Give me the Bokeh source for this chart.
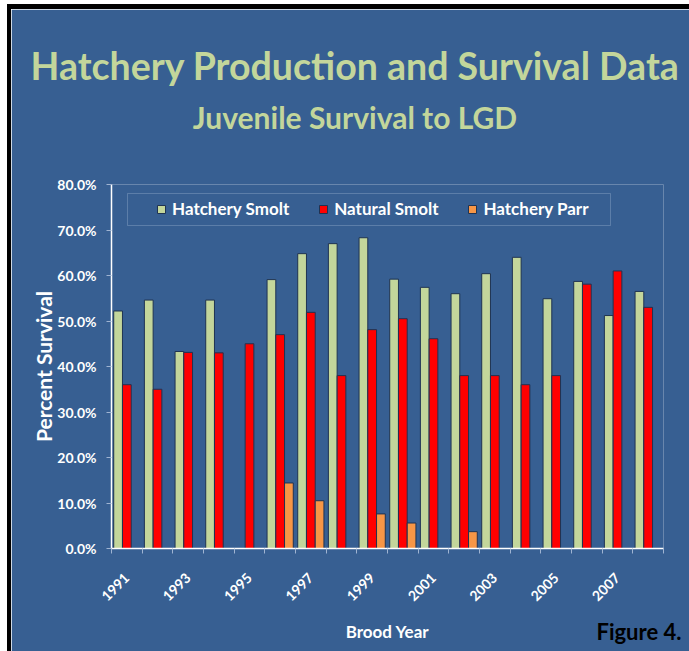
import numpy as np
from math import pi
from bokeh.plotting import figure
from bokeh.models import (ColumnDataSource, Range1d, FixedTicker, PrintfTickFormatter,
                          BoxAnnotation, Legend, LegendItem, LinearAxis, Title)
from bokeh.transform import dodge
from bokeh.embed import file_html
from bokeh.resources import INLINE

nan = float("nan")
years = [1991, 1992, 1993, 1994, 1995, 1996, 1997, 1998, 1999,
         2000, 2001, 2002, 2003, 2004, 2005, 2006, 2007, 2008]
hatchery_smolt = [52.2, 54.6, 43.3, 54.6, nan, 59.1, 64.8, 67.0, 68.3,
                  59.2, 57.4, 56.0, 60.4, 64.0, 54.9, 58.7, 51.2, 56.5]
natural_smolt = [36.0, 35.0, 43.1, 43.0, 45.0, 47.0, 51.9, 38.0, 48.1,
                 50.5, 46.1, 38.0, 38.0, 36.0, 38.0, 58.1, 61.0, 53.0]
hatchery_parr = [nan, nan, nan, nan, nan, 14.4, 10.5, nan, 7.6,
                 5.6, nan, 3.7, nan, nan, nan, nan, nan, nan]
tick_years = [1991, 1993, 1995, 1997, 1999, 2001, 2003, 2005, 2007]
y_ticks = [0, 10, 20, 30, 40, 50, 60, 70, 80]
FIG_LABEL_X = 2007.7    # caption position along the x axis
SUB_LABEL_X = 1998.44   # subtitle centre along the x axis

BG = "#375F92"
GREEN = "#C3D69B"
RED = "#FF0000"
ORANGE = "#F79646"
OUTLINE = "#1F3352"
TICKC = "#9FB4D2"
FONT = "Lato"

src = ColumnDataSource(dict(year=np.array(years, dtype=float),
                            hs=np.array(hatchery_smolt, dtype=float),
                            ns=np.array(natural_smolt, dtype=float),
                            hp=np.array(hatchery_parr, dtype=float)))

p = figure(width=678, height=642, output_backend="svg", toolbar_location=None,
           x_range=Range1d(years[0] - 0.5, years[-1] + 0.5), y_range=Range1d(0, 80),
           min_border_left=100, min_border_right=26, min_border_top=175, min_border_bottom=103,
           styles={"margin-left": "11px", "margin-top": "9px",
                   "box-shadow": "-4px -5px 0 0 black, 0 -5px 0 0 black, -4px 0 0 0 black"})
p.background_fill_color = BG
p.border_fill_color = BG
p.outline_line_color = None
p.xgrid.grid_line_color = None
p.ygrid.grid_line_color = None

bw = 0.285
r1 = p.vbar(x=dodge("year", -bw, range=p.x_range), top="hs", width=bw, source=src,
            fill_color=GREEN, line_color=OUTLINE, line_width=1)
r2 = p.vbar(x="year", top="ns", width=bw, source=src,
            fill_color=RED, line_color=OUTLINE, line_width=1)
r3 = p.vbar(x=dodge("year", bw, range=p.x_range), top="hp", width=bw, source=src,
            fill_color=ORANGE, line_color=OUTLINE, line_width=1)

# x axis with the years
xa = p.xaxis[0]
xa.ticker = FixedTicker(ticks=tick_years, minor_ticks=[y - 0.5 for y in years] + [years[-1] + 0.5])
xa.major_label_overrides = {y: str(y) for y in tick_years}
xa.major_label_orientation = pi / 4
xa.major_tick_out = 0
xa.major_tick_in = 0
xa.minor_tick_out = 5
xa.minor_tick_in = 0
xa.minor_tick_line_color = TICKC
xa.axis_line_color = "white"
xa.axis_line_width = 1.5
xa.major_label_text_color = "white"
xa.major_label_text_font = FONT
xa.major_label_text_font_style = "bold"
xa.major_label_text_font_size = "14px"
xa.major_label_standoff = 22

# second (line-less) axis carrying the caption and the axis title
xb = LinearAxis(ticker=FixedTicker(ticks=[FIG_LABEL_X]),
                major_label_overrides={FIG_LABEL_X: "Figure 4."},
                axis_line_color=None, major_tick_line_color=None, minor_tick_line_color=None,
                major_tick_out=0, major_tick_in=0, minor_tick_out=0, minor_tick_in=0,
                major_label_standoff=9, major_label_text_color="black",
                major_label_text_font=FONT, major_label_text_font_style="bold",
                major_label_text_font_size="22px",
                axis_label="Brood Year", axis_label_text_color="white",
                axis_label_text_font=FONT, axis_label_text_font_style="bold",
                axis_label_text_font_size="17px", axis_label_standoff=-27)
p.add_layout(xb, "below")

# y axis
ya = p.yaxis[0]
ya.ticker = FixedTicker(ticks=y_ticks)
ya.formatter = PrintfTickFormatter(format="%.1f%%")
ya.major_tick_out = 5
ya.major_tick_in = 0
ya.minor_tick_out = 0
ya.minor_tick_in = 0
ya.major_tick_line_color = TICKC
ya.axis_line_color = "white"
ya.axis_line_width = 1.5
ya.major_label_text_color = "white"
ya.major_label_text_font = FONT
ya.major_label_text_font_style = "bold"
ya.major_label_text_font_size = "14px"
ya.major_label_standoff = 10
ya.axis_label = "Percent Survival"
ya.axis_label_text_color = "white"
ya.axis_label_text_font = FONT
ya.axis_label_text_font_style = "bold"
ya.axis_label_text_font_size = "21px"
ya.axis_label_standoff = -2

# legend
legend = Legend(items=[LegendItem(label="Hatchery Smolt", renderers=[r1]),
                       LegendItem(label="Natural Smolt", renderers=[r2]),
                       LegendItem(label="Hatchery Parr", renderers=[r3])],
                location=(45, 329), orientation="horizontal",
                glyph_width=10, glyph_height=10, label_standoff=6, spacing=29,
                padding=0, margin=0, label_height=20,
                border_line_alpha=0, background_fill_alpha=0,
                label_text_color="white", label_text_font=FONT,
                label_text_font_style="bold", label_text_font_size="17px")
p.add_layout(legend)
p.add_layout(BoxAnnotation(left=16, right=499, bottom=323, top=355,
                           left_units="screen", right_units="screen",
                           bottom_units="screen", top_units="screen",
                           fill_alpha=0, line_color="#B4C6DE", line_width=1))

# subtitle (carried by a line-less axis above the frame), then the main title
sub = LinearAxis(ticker=FixedTicker(ticks=[SUB_LABEL_X]),
                 major_label_overrides={SUB_LABEL_X: "Juvenile Survival to LGD"},
                 axis_line_color=None, major_tick_line_color=None, minor_tick_line_color=None,
                 major_tick_out=0, major_tick_in=0, minor_tick_out=0, minor_tick_in=0,
                 major_label_standoff=50, major_label_text_color=GREEN,
                 major_label_text_font=FONT, major_label_text_font_style="bold",
                 major_label_text_font_size="30px")
p.add_layout(sub, "above")
p.add_layout(Title(text="Hatchery Production and Survival Data", align="left", offset=-81,
                   standoff=16, vertical_align="bottom", text_color=GREEN,
                   text_font=FONT, text_font_style="bold", text_font_size="37.5px"), "above")

open("out.html", "w").write(file_html(p, INLINE))
